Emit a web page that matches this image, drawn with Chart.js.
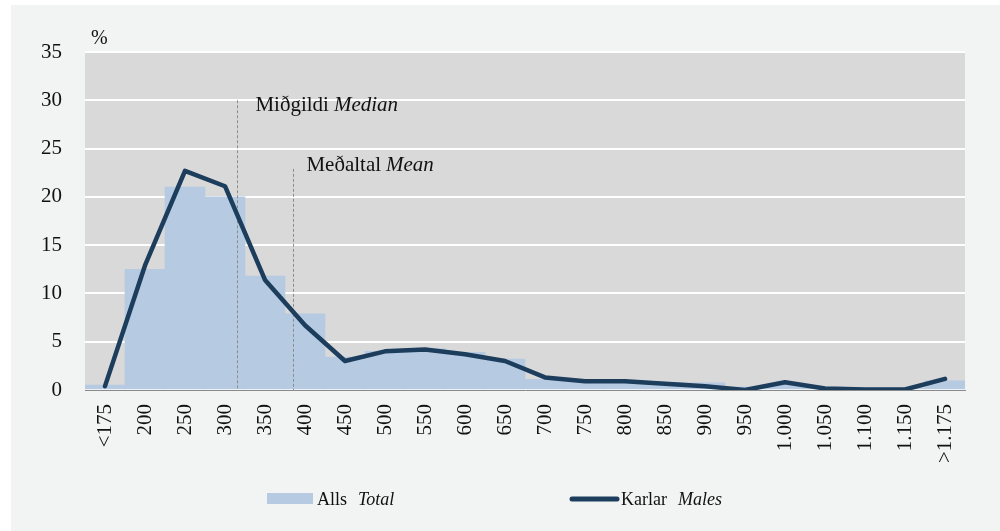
<!DOCTYPE html>
<html>
<head>
<meta charset="utf-8">
<script src="https://cdn.jsdelivr.net/npm/chart.js@4.4.1/dist/chart.umd.min.js"></script>
<style>
  html, body { margin: 0; padding: 0; background: #ffffff; }
  #wrap { position: relative; width: 1000px; height: 531px; }
  canvas { display: block; }
</style>
</head>
<body>
<div id="wrap"><canvas id="c" width="1000" height="531"></canvas></div>
<script>
const categories = ['<175','200','250','300','350','400','450','500','550','600','650','700','750','800','850','900','950','1.000','1.050','1.100','1.150','>1.175'];
const totalValues = [0.5, 12.5, 21.0, 20.0, 11.8, 7.9, 3.4, 4.0, 4.3, 3.9, 3.2, 1.1, 1.0, 0.9, 0.8, 0.75, 0.3, 0.5, 0.3, 0.2, 0.2, 0.95];
const malesValues = [0.4, 12.9, 22.7, 21.1, 11.4, 6.7, 3.0, 4.0, 4.2, 3.7, 3.0, 1.3, 0.9, 0.9, 0.65, 0.4, 0.0, 0.8, 0.15, 0.05, 0.05, 1.15];
const seriesNames = [['Alls', 'Total'], ['Karlar', 'Males']];
const yAxisTitle = '%';
// reference markers: position on the category axis (index units) and top value
const medianMarker = { index: 3.31, top: 30.0, label: ['Miðgildi', 'Median'] };
const meanMarker = { index: 4.71, top: 22.9, label: ['Meðaltal', 'Mean'] };

const BAR_COLOR = '#b6cae2';
const LINE_COLOR = '#1d3d5d';
const FONT = '"Liberation Serif", "Times New Roman", serif';

function drawMixed(ctx, x, y, normal, italic, gap, size) {
  ctx.font = size + 'px ' + FONT;
  ctx.fillText(normal, x, y);
  const w = ctx.measureText(normal).width;
  ctx.font = 'italic ' + size + 'px ' + FONT;
  ctx.fillText(italic, x + w + gap, y);
}

const decor = {
  id: 'decor',
  beforeDraw(chart) {
    const { ctx, chartArea: a } = chart;
    ctx.save();
    ctx.fillStyle = '#ffffff';
    ctx.fillRect(0, 0, chart.width, chart.height);
    ctx.fillStyle = '#f2f4f4';
    ctx.fillRect(11, 5, chart.width - 11, chart.height - 5);
    ctx.fillStyle = '#d9d9d9';
    ctx.fillRect(a.left, a.top, a.right - a.left, a.bottom - a.top);
    ctx.restore();
  },
  afterDatasetDraw(chart, args) {
    if (args.index !== 0) return;
    const { ctx, scales: { x, y } } = chart;
    ctx.save();
    ctx.strokeStyle = '#8c8c8c';
    ctx.lineWidth = 1;
    ctx.setLineDash([3, 2]);
    [medianMarker, meanMarker].forEach(m => {
      const px = Math.round(x.getPixelForValue(m.index)) + 0.5;
      ctx.beginPath();
      ctx.moveTo(px, y.getPixelForValue(m.top));
      ctx.lineTo(px, y.getPixelForValue(0));
      ctx.stroke();
    });
    ctx.restore();
  },
  afterDraw(chart) {
    const { ctx, scales: { x, y } } = chart;
    ctx.save();
    ctx.fillStyle = '#111111';
    ctx.textBaseline = 'alphabetic';
    ctx.textAlign = 'left';
    // marker labels
    const mx = x.getPixelForValue(medianMarker.index);
    drawMixed(ctx, mx + 18, y.getPixelForValue(medianMarker.top) + 11, medianMarker.label[0], medianMarker.label[1], 5, 21);
    const ex = x.getPixelForValue(meanMarker.index);
    drawMixed(ctx, ex + 13, y.getPixelForValue(meanMarker.top) + 2, meanMarker.label[0], meanMarker.label[1], 5, 21);
    // y axis unit
    ctx.font = '20px ' + FONT;
    ctx.fillText(yAxisTitle, 91, 44);
    // legend
    ctx.fillStyle = BAR_COLOR;
    ctx.fillRect(267, 493, 46, 11);
    ctx.fillStyle = '#111111';
    drawMixed(ctx, 317, 505, seriesNames[0][0], seriesNames[0][1], 11, 18);
    ctx.strokeStyle = LINE_COLOR;
    ctx.lineWidth = 5;
    ctx.lineCap = 'round';
    ctx.beginPath();
    ctx.moveTo(572, 499);
    ctx.lineTo(617, 499);
    ctx.stroke();
    drawMixed(ctx, 621, 505, seriesNames[1][0], seriesNames[1][1], 11, 18);
    ctx.restore();
  }
};

new Chart(document.getElementById('c'), {
  type: 'bar',
  data: {
    labels: categories,
    datasets: [
      {
        type: 'bar',
        label: seriesNames[0].join(' '),
        data: totalValues,
        backgroundColor: BAR_COLOR,
        borderWidth: 0,
        barPercentage: 1.0,
        categoryPercentage: 1.0,
        order: 2
      },
      {
        type: 'line',
        label: seriesNames[1].join(' '),
        data: malesValues,
        borderColor: LINE_COLOR,
        borderWidth: 4.5,
        pointRadius: 0,
        tension: 0,
        borderJoinStyle: 'round',
        borderCapStyle: 'round',
        fill: false,
        order: 1
      }
    ]
  },
  options: {
    responsive: false,
    animation: false,
    devicePixelRatio: 1,
    layout: { padding: { top: 52, right: 35, bottom: 0, left: 0 } },
    plugins: { legend: { display: false }, tooltip: { enabled: false } },
    scales: {
      x: {
        grid: { display: false, drawTicks: false },
        border: { display: true, color: '#8a8a8a', width: 1 },
        ticks: {
          autoSkip: false,
          minRotation: 90,
          maxRotation: 90,
          padding: 14,
          color: '#111111',
          font: { family: FONT, size: 21 }
        },
        afterFit(scale) { scale.height = 141; }
      },
      y: {
        min: 0,
        max: 35,
        grid: { color: '#ffffff', lineWidth: 2, drawTicks: false },
        border: { display: false },
        ticks: {
          stepSize: 5,
          padding: 23,
          color: '#111111',
          font: { family: FONT, size: 21 }
        },
        afterFit(scale) { scale.width = 85; }
      }
    }
  },
  plugins: [decor]
});
</script>
</body>
</html>
